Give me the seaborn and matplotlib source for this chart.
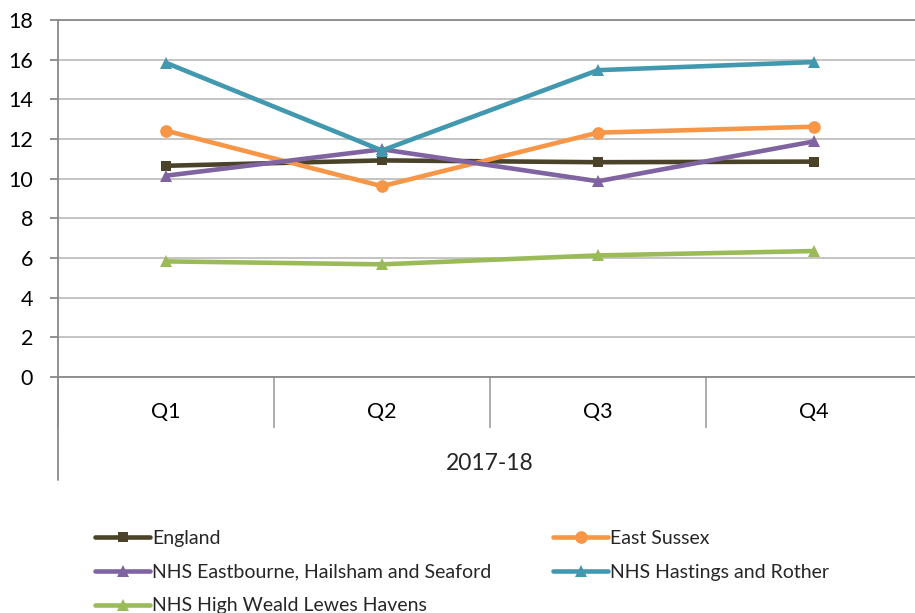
import matplotlib
matplotlib.use("Agg")
import matplotlib.pyplot as plt
from matplotlib.lines import Line2D
import seaborn as sns
import pandas as pd

# Quarterly values, 2017-18
quarters = ["Q1", "Q2", "Q3", "Q4"]
year_label = "2017-18"
england = [10.65, 10.92, 10.83, 10.86]
east_sussex = [12.42, 9.62, 12.32, 12.62]
eastbourne = [10.15, 11.48, 9.87, 11.88]
hastings = [15.84, 11.42, 15.47, 15.88]
high_weald = [5.83, 5.68, 6.13, 6.35]

series_names = [
    "England",
    "East Sussex",
    "NHS Eastbourne, Hailsham and Seaford",
    "NHS Hastings and Rother",
    "NHS High Weald Lewes Havens",
]
series_values = [england, east_sussex, eastbourne, hastings, high_weald]
colors = ["#4A4229", "#F79646", "#8064A2", "#4198AF", "#9BBB59"]
markers = ["s", "o", "^", "^", "^"]
msizes = [11, 13, 12.5, 12.5, 12.5]

df = pd.DataFrame(
    [
        {"quarter": q, "value": v, "series": name}
        for name, vals in zip(series_names, series_values)
        for q, v in zip(quarters, vals)
    ]
)

sns.set_style("white")
plt.rcParams["font.family"] = ["Lato", "DejaVu Sans"]

W, H = 915, 613
fig = plt.figure(figsize=(W / 100, H / 100), dpi=100)
ax = fig.add_axes([58 / W, 1 - 377 / H, 1 - 58 / W, (377 - 20) / H])

for name, col, mk, ms in zip(series_names, colors, markers, msizes):
    sub = df[df["series"] == name]
    sns.lineplot(
        data=sub, x="quarter", y="value", ax=ax, color=col, marker=mk,
        markersize=ms, markeredgewidth=0, linewidth=3.3, sort=False,
        label=name, zorder=3,
    )

ax.set_ylim(0, 18)
ax.set_yticks(range(0, 19, 2))
ax.set_xlim(-0.5, 3.468)
ax.set_xlabel("")
ax.set_ylabel("")

# Horizontal gridlines
ax.yaxis.grid(True, color="#BFBFBF", linewidth=1.3)
ax.xaxis.grid(False)
ax.set_axisbelow(True)

ax.spines["right"].set_visible(False)
for side in ["left", "bottom", "top"]:
    ax.spines[side].set_color("#898989")
    ax.spines[side].set_linewidth(1.3)

ax.tick_params(axis="y", which="major", length=6, width=1.3, color="#898989",
               labelsize=15.5, pad=12, left=True, labelcolor="black")

# Category boundaries as long ticks, labels centred between them
ax.set_xticks([-0.5, 0.5, 1.5, 2.5])
ax.set_xticklabels([])
ax.set_xticks(range(len(quarters)), minor=True)
ax.set_xticklabels(quarters, minor=True)
ax.tick_params(axis="x", which="major", length=37, width=1.3, color="#A6A6A6",
               bottom=True)
ax.tick_params(axis="x", which="minor", length=0, labelsize=15.5, pad=18,
               labelcolor="black")

# Left axis line continues down past the quarter row
ax.add_line(Line2D([0, 0], [0, -(480 - 377) / 357], transform=ax.transAxes,
                   color="#898989", linewidth=1.3, clip_on=False))

fig.text((58 + 922) / 2 / W, 1 - 464 / H, year_label, ha="center", va="center",
         fontsize=16.5)

handles, labels = ax.get_legend_handles_labels()
ax.get_legend().remove()
hmap = dict(zip(labels, handles))
for h in handles:
    h.set_markersize(h.get_markersize() * 0.7)

col1 = [series_names[0], series_names[2], series_names[4]]
col2 = [series_names[1], series_names[3]]
common = dict(frameon=False, fontsize=14, handlelength=2.83, handletextpad=0.12,
              labelspacing=0.86, borderpad=0, borderaxespad=0, loc="upper left")
fig.legend([hmap[n] for n in col1], col1,
           bbox_to_anchor=(95 / W, 1 - 530 / H), **common)
fig.legend([hmap[n] for n in col2], col2,
           bbox_to_anchor=(553 / W, 1 - 530 / H), **common)

fig.savefig("out.png", dpi=100)
